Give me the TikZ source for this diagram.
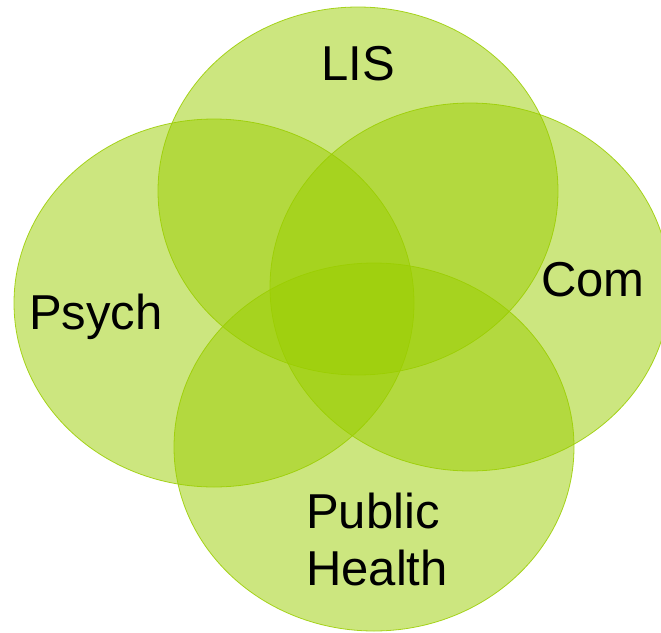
\documentclass[tikz,border=0pt]{standalone}
\usepackage{fontspec}
\setmainfont{Liberation Sans}
\usetikzlibrary{shapes.geometric}
\definecolor{setgreen}{RGB}{154,205,0}
\begin{document}
\begin{tikzpicture}[x=1pt,y=-1pt,
    set node/.style={ellipse,draw=setgreen,line width=0.8pt,fill=setgreen,fill opacity=0.5,draw opacity=0.85,
        minimum width=400pt,minimum height=368pt,inner sep=0pt},
    lbl node/.style={anchor=base,align=left,inner sep=0pt,font=\fontsize{49}{57}\selectfont}]

    \useasboundingbox (0,0) rectangle (661,632);

    \node[set node] (lis) at (358,191) {};
    \node[set node] (psych) at (214,303) {};
    \node[set node] (com) at (470,287) {};
    \node[set node] (health) at (374,447) {};

    \node[lbl node] (lislbl) at (358,80) {LIS};
    \node[lbl node] (psychlbl) at (96,329) {Psych};
    \node[lbl node] (comlbl) at (593,296) {Com};
    \node[lbl node] (healthlbl) at (377,585) {Public\\Health};

\end{tikzpicture}
\end{document}
